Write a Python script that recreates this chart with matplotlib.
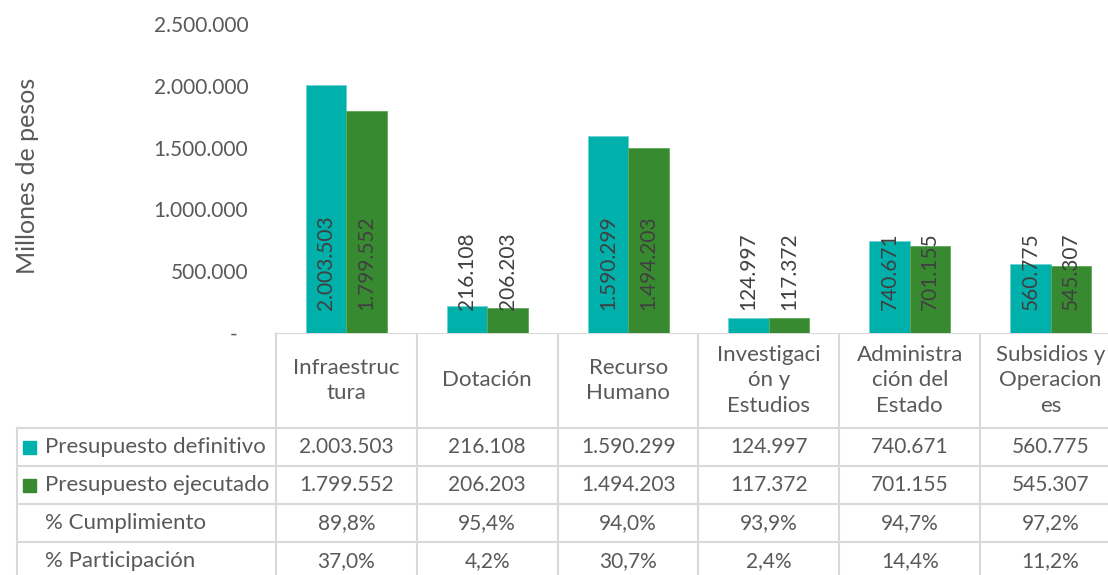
import numpy as np
import matplotlib
matplotlib.use("Agg")
import matplotlib.pyplot as plt
from matplotlib.ticker import FuncFormatter
from matplotlib.transforms import blended_transform_factory

# datos
categorias = ["Infraestruc\ntura", "Dotación", "Recurso\nHumano",
              "Investigaci\nón y\nEstudios", "Administra\nción del\nEstado",
              "Subsidios y\nOperacion\nes"]
definitivo = [2003503, 216108, 1590299, 124997, 740671, 560775]
ejecutado = [1799552, 206203, 1494203, 117372, 701155, 545307]
cumplimiento = ["89,8%", "95,4%", "94,0%", "93,9%", "94,7%", "97,2%"]
participacion = ["37,0%", "4,2%", "30,7%", "2,4%", "14,4%", "11,2%"]

fila_labels = ["Presupuesto definitivo", "Presupuesto ejecutado",
               "% Cumplimiento", "% Participación"]

c_def = "#00B0AA"
c_eje = "#388A31"
c_txt = "#595959"
c_lab = "#404040"
c_grid = "#D9D9D9"

plt.rcParams["font.family"] = ["Lato", "DejaVu Sans"]
fs = 15    # numeros
fs_t = 16  # textos de la tabla
fs_y = 18


def miles(v):
    return f"{int(round(v)):,}".replace(",", ".")


W, H = 1108, 575
fig = plt.figure(figsize=(W / 100, H / 100), dpi=100)

# eje de barras: x de 276 a 1121 px, y de 333 (0) a 24 (2.5M)
ax = fig.add_axes([276 / W, 1 - 333 / H, (1121 - 276) / W, (333 - 24) / H])
x = np.arange(len(categorias))
bw = 0.288
ax.bar(x - bw / 2, definitivo, bw, color=c_def, edgecolor="#6FD3CF", linewidth=0.6)
ax.bar(x + bw / 2, ejecutado, bw, color=c_eje, edgecolor="#5FA857", linewidth=0.6)
ax.set_xlim(-0.5, len(categorias) - 0.5)
ax.set_ylim(0, 2500000)
ax.set_yticks(np.arange(0, 2500001, 500000))
ax.yaxis.set_major_formatter(FuncFormatter(lambda v, p: "-  " if v == 0 else miles(v)))
ax.tick_params(axis="y", length=0, pad=20, labelsize=fs, labelcolor=c_txt)
ax.set_xticks([])
for s in ax.spines.values():
    s.set_visible(False)
ax.set_ylabel("Millones de pesos", fontsize=fs_y, color=c_txt)
ax.yaxis.set_label_coords(-0.28, 0.51)

for xi, v1, v2 in zip(x, definitivo, ejecutado):
    for xx, vv in ((xi - bw / 2, v1), (xi + bw / 2, v2)):
        ax.annotate(miles(vv), (xx, 0), xytext=(0, 16.5), textcoords="offset points",
                    rotation=90, ha="center", va="bottom", fontsize=fs, color=c_lab)

# tabla de datos, y en pixeles
tab = fig.add_axes([0, 0, 1, 1], zorder=-1)
tab.set_xlim(0, W)
tab.set_ylim(H, 0)
tab.axis("off")
tr = blended_transform_factory(ax.transData, tab.transData)

y_top, y_head, rh = 333, 428, 38
n = len(categorias)
lw = 1.5
# bordes de columnas
for i in range(n + 1):
    tab.plot([i - 0.5, i - 0.5], [y_top, H + 10], color=c_grid, lw=lw, transform=tr,
             clip_on=False)
tab.plot([-0.5, n - 0.5], [y_top, y_top], color=c_grid, lw=lw, transform=tr)
for r in range(5):
    yy = y_head + r * rh
    tab.plot([17, 276], [yy, yy], color=c_grid, lw=lw)
    tab.plot([-0.5, n - 0.5], [yy, yy], color=c_grid, lw=lw, transform=tr)
tab.plot([17, 17], [y_head, H + 10], color=c_grid, lw=lw)

for i, cat in enumerate(categorias):
    tab.text(i, (y_top + y_head) / 2, cat, ha="center", va="center", fontsize=fs_t,
             color=c_txt, linespacing=1.33, transform=tr)

filas = [[miles(v) for v in definitivo], [miles(v) for v in ejecutado],
         cumplimiento, participacion]
for r, (lab, vals) in enumerate(zip(fila_labels, filas)):
    yc = y_head + r * rh + rh / 2
    tab.text(45, yc, lab, ha="left", va="center", fontsize=fs_t, color=c_txt)
    for i, v in enumerate(vals):
        tab.text(i, yc, v, ha="center", va="center", fontsize=fs, color=c_txt,
                 transform=tr)
    if r < 2:
        col = c_def if r == 0 else c_eje
        tab.add_patch(plt.Rectangle((23, yc - 6.5), 13, 13, color=col))

fig.savefig("out.png", dpi=100)
